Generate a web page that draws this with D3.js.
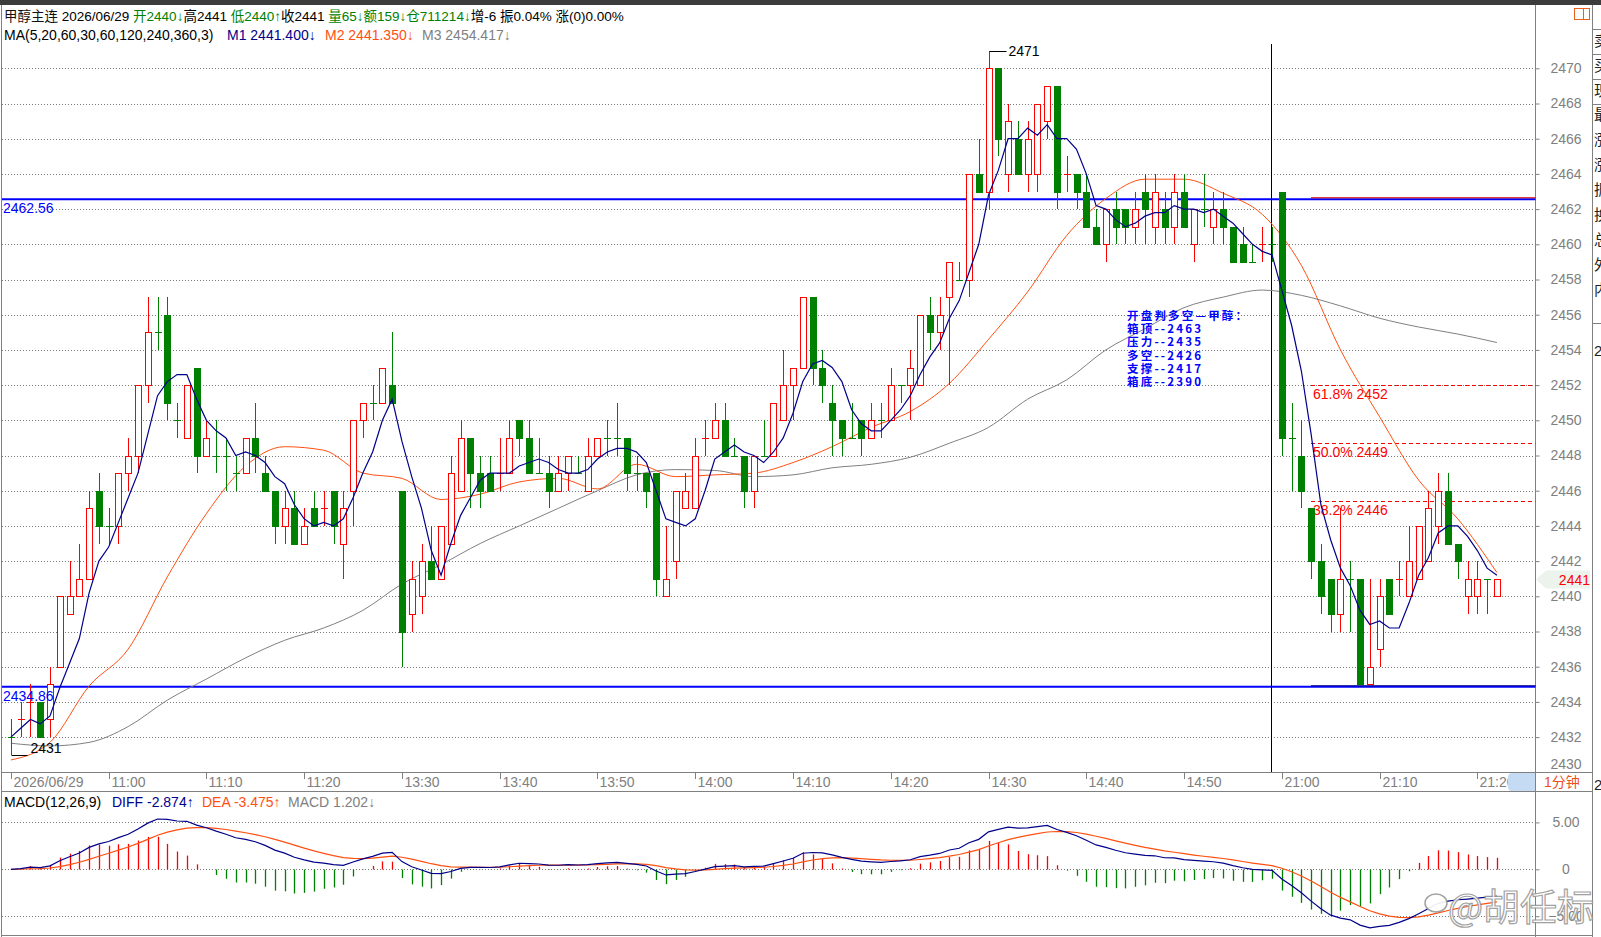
<!DOCTYPE html>
<html>
<head>
<meta charset="utf-8">
<script src="https://cdn.jsdelivr.net/npm/d3@7"></script>
<style>
body { margin: 0; background: #fff; overflow: hidden; }
svg { display: block; font-family: "Liberation Sans", Arial, "Noto Sans CJK SC", sans-serif; }
text { white-space: pre; }
</style>
</head>
<body>
<div id="chart"></div>
<script>
// sessions: first bar time and bar count (1-minute bars)
var sessions = [["10:50", 40], ["13:30", 90], ["21:00", 23]];

var tickLabels = ["2026/06/29", "11:00", "11:10", "11:20", "13:30", "13:40", "13:50", "14:00",
  "14:10", "14:20", "14:30", "14:40", "14:50", "21:00", "21:10", "21:20"];

var opens = [
  2432,2433,2434,2434,2433,2436,2439,2440,2441,2446,
  2444,2444,2447,2448,2452,2455,2456,2450,2449,2453,
  2448,2448,2448,2447,2447,2449,2447,2446,2444,2445,
  2443,2445,2445,2446,2443,2446,2450,2451,2451,2452,
  2446,2439,2440,2442,2441,2443,2446,2449,2447,2447,
  2447,2447,2450,2449,2447,2447,2446,2447,2447,2446,
  2448,2449,2449,2449,2447,2447,2447,2440,2442,2445,
  2445,2449,2449,2450,2448,2448,2446,2448,2448,2450,
  2452,2453,2457,2453,2451,2450,2449,2450,2449,2450,
  2450,2452,2452,2452,2456,2455,2457,2458,2458,2464,
  2463,2470,2464,2466,2464,2464,2467,2469,2464,2464,
  2463,2461,2460,2462,2462,2461,2463,2461,2462,2461,
  2463,2460,2462,2461,2462,2461,2460,2459,2460,2460,
  2463,2449,2448,2445,2442,2441,2439,2441,2441,2435,
  2437,2441,2441,2440,2441,2442,2444,2446,2443,2440,
  2440,2441,2440];
var highs = [
  2433,2434,2435,2434,2436,2440,2442,2443,2446,2447,
  2445,2447,2449,2452,2457,2457,2457,2451,2452,2453,
  2450,2450,2449,2448,2449,2451,2448,2446,2446,2446,
  2445,2446,2446,2446,2446,2450,2451,2452,2453,2455,
  2446,2442,2443,2444,2444,2448,2450,2449,2448,2448,
  2449,2450,2450,2450,2449,2448,2448,2448,2448,2449,
  2449,2450,2451,2449,2448,2447,2447,2444,2446,2447,
  2449,2450,2451,2451,2449,2448,2448,2450,2451,2454,
  2453,2457,2457,2454,2452,2450,2451,2450,2451,2451,
  2453,2452,2454,2456,2457,2457,2459,2459,2464,2466,
  2471,2470,2468,2467,2467,2468,2469,2469,2465,2464,
  2464,2462,2462,2463,2462,2463,2464,2464,2463,2464,
  2464,2462,2464,2463,2463,2461,2461,2460,2461,2461,
  2463,2451,2450,2445,2443,2441,2445,2442,2441,2441,
  2441,2441,2442,2444,2444,2446,2447,2447,2443,2442,
  2442,2441,2441];
var lows = [
  2431,2432,2432,2432,2432,2436,2439,2440,2441,2443,
  2443,2443,2446,2447,2451,2454,2450,2449,2449,2447,
  2448,2447,2446,2446,2447,2447,2446,2443,2443,2443,
  2443,2444,2444,2443,2441,2444,2449,2450,2451,2451,
  2436,2438,2439,2441,2441,2443,2446,2445,2445,2446,
  2446,2447,2448,2447,2447,2445,2446,2446,2447,2446,
  2448,2448,2448,2446,2446,2445,2440,2440,2441,2445,
  2445,2448,2449,2448,2448,2445,2445,2448,2448,2450,
  2450,2453,2452,2451,2448,2448,2449,2448,2449,2449,
  2450,2451,2450,2452,2454,2454,2452,2458,2457,2463,
  2462,2465,2463,2464,2463,2463,2466,2462,2463,2462,
  2461,2460,2459,2460,2460,2460,2460,2460,2460,2460,
  2461,2459,2461,2460,2460,2459,2459,2459,2459,2459,
  2448,2446,2445,2441,2439,2438,2438,2438,2435,2435,
  2436,2439,2440,2440,2441,2442,2443,2443,2441,2439,
  2439,2439,2440];
var closes = [
  2432,2433,2434,2432,2435,2440,2440,2441,2445,2444,
  2444,2447,2448,2452,2455,2455,2451,2450,2452,2448,
  2449,2448,2448,2447,2449,2448,2446,2444,2445,2443,
  2444,2444,2445,2444,2445,2450,2451,2451,2453,2451,
  2438,2441,2442,2441,2444,2447,2449,2447,2446,2446,
  2447,2449,2449,2447,2447,2446,2447,2448,2447,2448,
  2449,2449,2449,2447,2447,2446,2441,2441,2446,2446,
  2448,2449,2450,2448,2448,2446,2448,2448,2451,2452,
  2453,2457,2453,2452,2450,2449,2449,2449,2450,2450,
  2452,2452,2453,2456,2455,2456,2459,2458,2464,2463,
  2470,2466,2467,2464,2466,2468,2469,2463,2464,2463,
  2461,2460,2462,2461,2461,2462,2462,2463,2461,2463,
  2461,2462,2462,2462,2461,2459,2459,2459,2460,2460,
  2449,2449,2446,2442,2440,2439,2441,2441,2435,2436,
  2440,2439,2441,2442,2444,2445,2446,2443,2442,2441,
  2441,2441,2441];

// moving averages every 4 bars (MA20 orange, MA60 gray)
var maAt = [0,4,8,12,16,20,24,28,32,36,40,44,48,52,56,60,64,68,72,76,80,84,88,92,96,100,
  104,108,112,116,120,124,128,132,136,140,144,148,152];
var ma20 = [2430.7,2431.7,2434.9,2437.0,2441.1,2444.7,2447.4,2448.5,2448.3,2447.0,2446.7,2445.5,2445.8,
  2446.5,2446.7,2446.1,2447.5,2446.8,2446.9,2447.0,2447.6,2448.5,2449.6,2450.5,2452.1,2454.6,
  2457.3,2460.5,2462.6,2463.7,2463.7,2462.9,2461.7,2458.8,2454.0,2450.2,2446.6,2444.4,2441.35];
var ma60 = [2431.65,2431.5,2431.7,2432.6,2434.1,2435.3,2436.5,2437.5,2438.2,2439.2,2440.7,2441.8,2443.0,
  2444.0,2445.0,2446.0,2446.9,2447.2,2447.15,2446.8,2446.9,2447.3,2447.5,2447.9,2448.7,2449.6,
  2451.2,2452.3,2454.0,2455.2,2456.4,2457.0,2457.4,2457.1,2456.5,2455.8,2455.3,2454.9,2454.42];

var boxLines = [2462.56, 2434.86];
var fibValues = [2451.98, 2448.71, 2445.44];
var fibLabels = ["61.8% 2452", "50.0% 2449", "38.2% 2446"];
var noteLines = ["开盘判多空—甲醇：", "箱顶--2463", "压力--2435", "多空--2426", "支撑--2417", "箱底--2390"];

// ---- build categories from sessions
var categories = [];
sessions.forEach(function(s) {
  var p = s[0].split(":"), m = +p[0] * 60 + +p[1];
  for (var k = 0; k < s[1]; k++) {
    var t = m + k;
    categories.push(d3.format("02")(Math.floor(t / 60)) + ":" + d3.format("02")(t % 60));
  }
});
var bars = categories.map(function(c, i) {
  return {t: c, i: i, o: opens[i], h: highs[i], l: lows[i], c: closes[i]};
});

var W = 1601, H = 937;
var plotL = 2, plotR = 1535.5, axisR = 1592.5;
var RED = "#ff0000", GREEN = "#008000", NAVY = "#00008b", ORANGE = "#ff5010", GRAY = "#808080";
var FS = 14;

var svg = d3.select("#chart").append("svg").attr("width", W).attr("height", H);

var x = d3.scalePoint().domain(categories).range([10.9, 1496.9]);
var y = d3.scaleLinear().domain([2430, 2450]).range([772.3, 420.3]);
var ym = d3.scaleLinear().domain([-5, 5]).range([916.2, 822.4]);

function px(i) { return Math.round(x(categories[i])) + 0.5; }

// ---- frame
svg.append("rect").attr("x", 0).attr("y", 0).attr("width", W).attr("height", 5).attr("fill", "#3c3c3c");
var frame = svg.append("g").attr("stroke", GRAY).attr("stroke-width", 1).attr("fill", "none");
frame.append("line").attr("x1", 1.5).attr("x2", 1.5).attr("y1", 5).attr("y2", H);
frame.append("line").attr("x1", plotR).attr("x2", plotR).attr("y1", 5).attr("y2", H);
frame.append("line").attr("x1", axisR).attr("x2", axisR).attr("y1", 5).attr("y2", H);
frame.append("line").attr("x1", 1).attr("x2", axisR).attr("y1", 772.5).attr("y2", 772.5);
frame.append("line").attr("x1", 1).attr("x2", axisR).attr("y1", 791.5).attr("y2", 791.5);
frame.append("line").attr("x1", 1).attr("x2", axisR).attr("y1", 935.5).attr("y2", 935.5);

// top right icon
svg.append("rect").attr("x", 1574.5).attr("y", 8.5).attr("width", 15).attr("height", 11)
  .attr("fill", "none").attr("stroke", "#e8601c");
svg.append("line").attr("x1", 1583.5).attr("x2", 1583.5).attr("y1", 8.5).attr("y2", 19.5).attr("stroke", "#e8601c");

// right strip with clipped glyphs
svg.append("clipPath").attr("id", "strip").append("rect").attr("x", 1593).attr("y", 5).attr("width", 8).attr("height", H);
var strip = svg.append("g").attr("clip-path", "url(#strip)");
["卖", "买", "现", "最", "涨", "涨", "振", "换", "总", "外", "内"].forEach(function(c, k) {
  strip.append("text").attr("x", 1594).attr("y", (k < 3 ? 46 + k * 25 : 120 + (k - 3) * 25))
    .attr("font-size", 15).attr("fill", "#222").attr("font-family", "Noto Sans CJK SC").text(c);
});
[29.5, 54.5, 79.5, 104.5, 323.5].forEach(function(v) {
  svg.append("line").attr("x1", axisR).attr("x2", W).attr("y1", v).attr("y2", v).attr("stroke", GRAY);
});
strip.append("text").attr("x", 1594).attr("y", 356).attr("font-size", 15).attr("fill", "#222").text("2");
strip.append("text").attr("x", 1594).attr("y", 790).attr("font-size", 15).attr("fill", "#222").text("2");

// ---- header
function header(yb, size, parts) {
  var t = svg.append("text").attr("x", 4).attr("y", yb).attr("font-size", size);
  parts.forEach(function(p) {
    var s = t.append("tspan").attr("fill", p[1]).text(p[0]);
    if (p[2] != null) s.attr("x", p[2]);
  });
}
header(21, 13.5, [["甲醇主连 ", "#111"], ["2026/06/29 ", "#000"], ["开2440↓", GREEN], ["高2441 ", "#000"],
  ["低2440↑", GREEN], ["收2441 ", "#000"], ["量65↓", GREEN], ["额159↓", GREEN], ["仓711214↓", GREEN],
  ["增-6 ", "#000"], ["振0.04% ", "#000"], ["涨(0)0.00%", "#000"]]);
header(39.5, FS, [["MA(5,20,60,30,60,120,240,360,3)", "#000"], ["M1 2441.400↓", NAVY, 227],
  ["M2 2441.350↓", ORANGE, 325], ["M3 2454.417↓", GRAY, 422]]);
header(806.5, FS, [["MACD(12,26,9)", "#000"], ["DIFF -2.874↑", NAVY, 112], ["DEA -3.475↑", ORANGE, 202],
  ["MACD 1.202↓", GRAY, 288]]);

// ---- grid
var grid = svg.append("g").attr("stroke", "#7a7a7a").attr("stroke-dasharray", "1,2");
grid.selectAll("line.p").data(d3.range(2432, 2471, 2)).join("line")
  .attr("x1", plotL).attr("x2", plotR).attr("y1", function(v) { return Math.round(y(v)) + 0.5; })
  .attr("y2", function(v) { return Math.round(y(v)) + 0.5; });
grid.selectAll("line.m").data([-5, 0, 5]).join("line")
  .attr("x1", plotL).attr("x2", plotR).attr("y1", function(v) { return Math.round(ym(v)) + 0.5; })
  .attr("y2", function(v) { return Math.round(ym(v)) + 0.5; });

// ---- price axis
var yAxis = svg.append("g").attr("transform", "translate(" + plotR + ",0)")
  .call(d3.axisRight(y).tickValues(d3.range(2430, 2471, 2)).tickSize(4).tickPadding(0).tickFormat(d3.format("d")));
yAxis.select(".domain").remove();
yAxis.selectAll("line").attr("stroke", GRAY);
yAxis.selectAll("text").attr("x", 30.5).attr("text-anchor", "middle").attr("fill", GRAY)
  .attr("font-size", FS).attr("font-family", "Liberation Sans, Arial, sans-serif");
yAxis.selectAll(".tick").filter(function(v) { return v === 2430; }).select("text").attr("dy", "-0.3em");
yAxis.selectAll(".tick").filter(function(v) { return v === 2430; }).select("line").remove();

var mAxis = svg.append("g").attr("transform", "translate(" + plotR + ",0)")
  .call(d3.axisRight(ym).tickValues([-5, 0, 5]).tickSize(4).tickFormat(function(v) { return v === 0 ? "0" : d3.format(".2f")(v); }));
mAxis.select(".domain").remove();
mAxis.selectAll("line").attr("stroke", GRAY);
mAxis.selectAll("text").attr("x", 30.5).attr("text-anchor", "middle").attr("fill", GRAY)
  .attr("font-size", FS).attr("font-family", "Liberation Sans, Arial, sans-serif");

// ---- time axis
var xg = svg.append("g");
tickLabels.forEach(function(lab, k) {
  var i = k === 0 ? 0 : categories.indexOf(lab);
  var xx = px(i);
  xg.append("line").attr("x1", xx).attr("x2", xx).attr("y1", 773).attr("y2", 779).attr("stroke", GRAY);
  xg.append("text").attr("x", xx + 2).attr("y", 786.5).attr("font-size", FS).attr("fill", GRAY).text(lab);
});
svg.append("path").attr("d", "M1535,773 H1512 Q1508,773 1508,777 V787 Q1508,791 1512,791 H1535 Z").attr("fill", "#c5dbf3");
svg.append("text").attr("x", 1544).attr("y", 787).attr("font-size", FS).attr("fill", "#e8501c").text("1分钟");

// ---- box lines
boxLines.forEach(function(v) {
  var yy = y(v);
  svg.append("line").attr("x1", plotL).attr("x2", plotR).attr("y1", yy).attr("y2", yy)
    .attr("stroke", "#0000ff").attr("stroke-width", 2);
});
svg.append("line").attr("x1", 1311).attr("x2", plotR).attr("y1", y(boxLines[0]) - 1.5).attr("y2", y(boxLines[0]) - 1.5)
  .attr("stroke", "#e00000").attr("stroke-width", 1);
svg.append("line").attr("x1", 1311).attr("x2", plotR).attr("y1", y(boxLines[1]) - 1).attr("y2", y(boxLines[1]) - 1)
  .attr("stroke", "#000080").attr("stroke-width", 1);

// ---- fib levels
fibValues.forEach(function(v, k) {
  var yy = Math.round(y(v)) + 0.5;
  svg.append("line").attr("x1", 1311).attr("x2", plotR).attr("y1", yy).attr("y2", yy)
    .attr("stroke", RED).attr("stroke-dasharray", "4,3");
  svg.append("text").attr("x", 1313).attr("y", yy + 13.5).attr("font-size", FS).attr("fill", RED).text(fibLabels[k]);
});

// session divider
svg.append("line").attr("x1", 1271.5).attr("x2", 1271.5).attr("y1", 44).attr("y2", 772)
  .attr("stroke", "#000").attr("stroke-width", 1);

// ---- moving averages
var ma5 = closes.map(function(c, i) { return d3.mean(closes.slice(Math.max(0, i - 4), i + 1)); });
var lineI = d3.line().x(function(d) { return x(categories[d[0]]); }).y(function(d) { return y(d[1]); });
svg.append("path").attr("fill", "none").attr("stroke", GRAY).attr("stroke-width", 1)
  .attr("d", lineI.curve(d3.curveMonotoneX)(maAt.map(function(i, k) { return [i, ma60[k]]; })));
svg.append("path").attr("fill", "none").attr("stroke", ORANGE).attr("stroke-width", 1)
  .attr("d", lineI.curve(d3.curveMonotoneX)(maAt.map(function(i, k) { return [i, ma20[k]]; })));

// ---- candles
var cg = svg.append("g").selectAll("g").data(bars).join("g");
function colorOf(d) {
  if (d.c > d.o) return RED;
  if (d.c < d.o) return GREEN;
  return d.i > 0 && d.c > closes[d.i - 1] ? RED : GREEN;
}
cg.append("line")
  .attr("x1", function(d) { return px(d.i); }).attr("x2", function(d) { return px(d.i); })
  .attr("y1", function(d) { return Math.round(y(d.h)); })
  .attr("y2", function(d) { return Math.round(y(d.l)); })
  .attr("stroke", colorOf);
cg.filter(function(d) { return d.c > d.o; }).append("rect")
  .attr("x", function(d) { return px(d.i) - 3; })
  .attr("y", function(d) { return Math.round(y(d.c)) + 0.5; })
  .attr("width", 6)
  .attr("height", function(d) { return Math.round(y(d.o)) - Math.round(y(d.c)); })
  .attr("fill", "#fff").attr("stroke", RED);
cg.filter(function(d) { return d.c < d.o; }).append("rect")
  .attr("x", function(d) { return px(d.i) - 3.5; })
  .attr("y", function(d) { return Math.round(y(d.o)); })
  .attr("width", 7)
  .attr("height", function(d) { return Math.round(y(d.c)) - Math.round(y(d.o)) + 1; })
  .attr("fill", GREEN);
cg.filter(function(d) { return d.c === d.o; }).append("line")
  .attr("x1", function(d) { return px(d.i) - 3.5; }).attr("x2", function(d) { return px(d.i) + 3.5; })
  .attr("y1", function(d) { return Math.round(y(d.c)) + 0.5; })
  .attr("y2", function(d) { return Math.round(y(d.c)) + 0.5; })
  .attr("stroke", colorOf);

svg.append("path").attr("fill", "none").attr("stroke", NAVY).attr("stroke-width", 1.2)
  .attr("d", lineI.curve(d3.curveLinear)(ma5.map(function(v, i) { return [i, v]; })));

// box line labels sit on top of the candles
boxLines.forEach(function(v) {
  svg.append("text").attr("x", 3).attr("y", y(v) + 14).attr("font-size", FS).attr("fill", "#0000ff")
    .text(d3.format(".2f")(v));
});

// ---- high / low markers
var hi = d3.maxIndex(highs), lo = d3.minIndex(lows);
svg.append("path").attr("d", "M" + px(hi) + "," + (Math.round(y(highs[hi])) + 0.5) + " h17")
  .attr("stroke", "#000").attr("fill", "none");
svg.append("text").attr("x", px(hi) + 19).attr("y", y(highs[hi]) + 5).attr("font-size", FS).text(highs[hi]);
svg.append("path").attr("d", "M" + px(lo) + "," + (Math.round(y(lows[lo])) + 0.5) + " h16")
  .attr("stroke", "#000").attr("fill", "none");
svg.append("text").attr("x", px(lo) + 19).attr("y", y(lows[lo]) - 2).attr("font-size", FS).text(lows[lo]);

// ---- last price tag
var last = closes[closes.length - 1], ly = Math.round(y(last)) + 0.5;
svg.append("path").attr("d", "M1536," + ly + " L1546," + (ly - 9) + " H1590 V" + (ly + 9) + " H1546 Z")
  .attr("fill", "#ecf3ec");
svg.append("text").attr("x", 1590).attr("y", ly + 5).attr("text-anchor", "end").attr("font-size", FS)
  .attr("fill", RED).text(last);

// ---- note block
var note = svg.append("text").attr("font-family", "Noto Sans CJK SC, sans-serif").attr("font-weight", "bold")
  .attr("font-size", 11.5).attr("fill", "#0000ff").attr("letter-spacing", 2.2);
noteLines.forEach(function(s, k) {
  note.append("tspan").attr("x", 1127).attr("y", 320 + k * 13.2).text(s);
});

// ---- MACD
function ema(arr, n) {
  var k = 2 / (n + 1), out = [];
  arr.forEach(function(v, i) { out.push(i ? out[i - 1] + k * (v - out[i - 1]) : v); });
  return out;
}
var e12 = ema(closes, 12), e26 = ema(closes, 26);
var diff = e12.map(function(v, i) { return v - e26[i]; });
var dea = ema(diff, 9);
var hist = diff.map(function(v, i) { return 2 * (v - dea[i]); });
var z0 = Math.round(ym(0)) + 0.5;
svg.append("g").selectAll("line").data(hist).join("line")
  .attr("x1", function(v, i) { return px(i); }).attr("x2", function(v, i) { return px(i); })
  .attr("y1", z0).attr("y2", function(v) { return ym(v); })
  .attr("stroke", function(v) { return v >= 0 ? RED : GREEN; }).attr("stroke-width", 1.3);
var lineM = d3.line().x(function(v, i) { return x(categories[i]); }).y(function(v) { return ym(v); });
svg.append("path").attr("fill", "none").attr("stroke", ORANGE).attr("stroke-width", 1.2).attr("d", lineM(dea));
svg.append("path").attr("fill", "none").attr("stroke", NAVY).attr("stroke-width", 1.2).attr("d", lineM(diff));

// ---- watermark
var wm = svg.append("g").attr("opacity", 0.92);
wm.append("ellipse").attr("cx", 1436).attr("cy", 903).attr("rx", 11).attr("ry", 9)
  .attr("fill", "#fff").attr("stroke", "#9a9a9a").attr("stroke-width", 1.5);
wm.append("text").attr("x", 1448).attr("y", 921).attr("font-size", 37).attr("font-family", "Noto Sans CJK SC, sans-serif")
  .attr("fill", "#fff").attr("stroke", "#9a9a9a").attr("stroke-width", 1.2).text("@胡任标");
</script>
</body>
</html>
